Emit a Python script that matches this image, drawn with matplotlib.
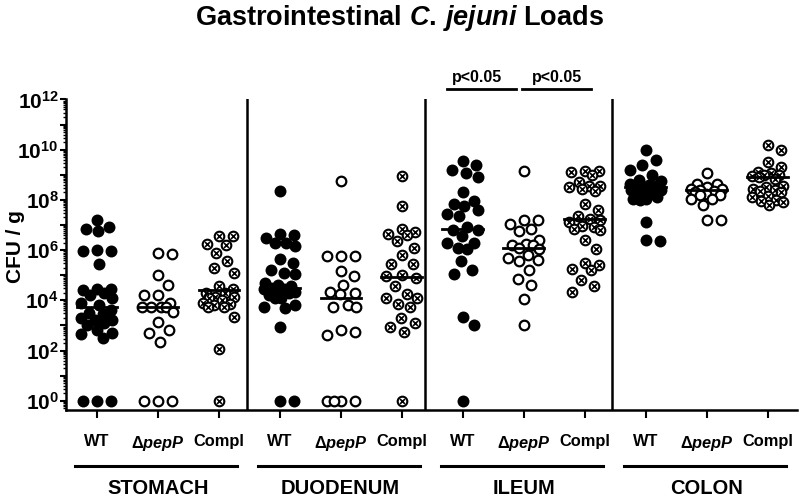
import numpy as np
import matplotlib
matplotlib.use("Agg")
import matplotlib.pyplot as plt
import matplotlib.transforms as mtransforms
from matplotlib.ticker import LogLocator, NullFormatter

plt.rcParams['font.family'] = 'Liberation Sans'
plt.rcParams['font.weight'] = 'bold'
plt.rcParams['mathtext.fontset'] = 'custom'
plt.rcParams['mathtext.rm'] = 'Liberation Sans:bold'
plt.rcParams['mathtext.it'] = 'Liberation Sans:italic:bold'
plt.rcParams['mathtext.bf'] = 'Liberation Sans:bold'

organos = ["STOMACH", "DUODENUM", "ILEUM", "COLON"]
cepas = ["WT", r"$\Delta\mathit{pepP}$", "Compl"]

# log10(CFU/g) (0 = 10^0)
stomach_wt = [7.2, 6.9, 6.85, 6.75, 6.0, 5.95, 5.95, 5.45, 4.45, 4.45, 4.4, 4.3, 4.2, 4.1, 3.9, 3.8,
              3.6, 3.5, 3.45, 3.3, 3.2, 3.2, 3.1, 3.0, 2.8, 2.7, 2.65, 2.5, 0, 0, 0]
stomach_pepp = [5.9, 5.85, 5.0, 4.6, 4.2, 4.2, 3.9, 3.75, 3.75, 3.75, 3.75, 3.55, 3.15, 2.8, 2.7,
                2.35, 0, 0, 0]
stomach_compl = [6.55, 6.55, 6.25, 6.2, 5.9, 5.55, 5.3, 5.1, 4.55, 4.45, 4.3, 4.3, 4.15, 4.15, 4.1,
                 4.0, 3.9, 3.85, 3.8, 3.75, 3.75, 3.35, 2.05, 0]

duodenum_wt = [8.35, 6.65, 6.6, 6.5, 6.3, 6.3, 6.15, 5.65, 5.5, 5.2, 5.1, 5.05, 4.7, 4.6, 4.55, 4.5,
               4.45, 4.45, 4.4, 4.35, 4.3, 4.2, 4.1, 4.1, 3.8, 3.75, 3.7, 2.95, 0, 0]
duodenum_pepp = [8.75, 5.75, 5.75, 5.75, 5.15, 4.95, 4.6, 4.35, 4.3, 4.25, 3.8, 3.75, 3.75, 2.8,
                 2.75, 2.6, 0, 0, 0, 0]
duodenum_compl = [8.95, 7.75, 6.85, 6.7, 6.65, 6.6, 6.35, 6.1, 5.8, 5.45, 5.45, 5.0, 4.95, 4.9,
                  4.55, 4.25, 4.1, 4.1, 3.85, 3.75, 3.3, 3.1, 2.95, 2.75, 0]

ileum_wt = [9.55, 9.4, 9.2, 9.05, 8.9, 8.3, 7.95, 7.85, 7.75, 7.6, 7.45, 7.35, 6.9, 6.8, 6.8, 6.55,
            6.3, 6.3, 6.1, 6.05, 5.55, 5.2, 5.05, 3.35, 3.0, 0]
ileum_pepp = [9.15, 7.2, 7.2, 7.05, 6.85, 6.75, 6.4, 6.25, 6.2, 6.2, 6.1, 6.05, 5.8, 5.7, 5.6, 5.55,
              5.2, 4.85, 4.6, 4.05, 3.0]
ileum_compl = [9.15, 9.15, 9.1, 9.0, 8.7, 8.55, 8.55, 8.5, 8.45, 8.35, 7.85, 7.6, 7.35, 7.25, 7.2,
               7.1, 6.95, 6.9, 6.85, 6.8, 6.4, 6.05, 5.5, 5.4, 5.25, 5.2, 4.8, 4.55, 4.35]

colon_wt = [10.0, 9.6, 9.4, 9.2, 9.0, 8.8, 8.75, 8.65, 8.6, 8.55, 8.5, 8.45, 8.4, 8.4, 8.35, 8.3,
            8.1, 8.05, 8.05, 8.0, 7.1, 6.4, 6.35]
colon_pepp = [9.05, 8.65, 8.65, 8.5, 8.45, 8.45, 8.4, 8.35, 8.3, 8.25, 8.2, 8.2, 8.05, 8.05, 7.8,
              7.2, 7.2]
colon_compl = [10.2, 10.0, 9.5, 9.3, 9.1, 9.05, 9.0, 9.0, 8.95, 8.9, 8.85, 8.55, 8.5, 8.45, 8.4,
               8.35, 8.3, 8.15, 8.1, 8.0, 7.95, 7.9, 7.8]

# medianas (log10)
medianas = [3.75, 3.72, 4.41, 4.5, 4.08, 4.94, 6.83, 6.07, 7.22, 8.5, 8.39, 8.92]

grupos = [stomach_wt, stomach_pepp, stomach_compl,
          duodenum_wt, duodenum_pepp, duodenum_compl,
          ileum_wt, ileum_pepp, ileum_compl,
          colon_wt, colon_pepp, colon_compl]

fig = plt.figure(figsize=(8, 4.97), dpi=100)
ax = fig.add_axes([0.082, 0.175, 0.914, 0.625])
ax.set_yscale('log')
ax.set_xlim(-0.51, 11.48)
ax.set_ylim(10 ** -0.37, 1e12)


def enjambre(x0, logs, D=14.0, W=15.5):
    # reparte los puntos en horizontal (en pixeles) para que no se pisen
    pix = ax.transData.transform([(x0, 10.0 ** v) for v in logs])
    grid = np.arange(-W, W + 0.01, 0.5)
    puestos = []
    for px, py in sorted(pix.tolist(), key=lambda p: -p[1]):
        if puestos:
            arr = np.array(puestos)
            d = np.sqrt((grid[:, None] + px - arr[:, 0]) ** 2 + (py - arr[:, 1]) ** 2).min(axis=1)
        else:
            d = np.full(grid.shape, np.inf)
        ok = grid[d >= D]
        if len(ok):
            dx = sorted(ok, key=lambda c: (abs(c), -c))[0]
        else:
            dx = grid[np.argmax(d)]
        puestos.append((px + dx, py))
    return ax.transData.inverted().transform(puestos)


for i, vals in enumerate(grupos):
    pts = enjambre(i, vals)
    tipo = i % 3
    if tipo == 0:
        ax.scatter(pts[:, 0], pts[:, 1], s=74, c='black', edgecolors='black', linewidths=0, zorder=3)
    elif tipo == 1:
        ax.scatter(pts[:, 0], pts[:, 1], s=48, facecolors='white', edgecolors='black',
                   linewidths=1.6, zorder=3)
    else:
        ax.scatter(pts[:, 0], pts[:, 1], s=48, facecolors='white', edgecolors='black',
                   linewidths=1.5, zorder=3)
        ax.scatter(pts[:, 0], pts[:, 1], s=12, marker='x', c='black', linewidths=1.2, zorder=4)
    m = 10 ** medianas[i]
    ax.plot([i - 0.33, i + 0.33], [m, m], color='black', lw=2.0, zorder=5)

# separadores entre organos
for s in [2.46, 5.39, 8.45]:
    ax.axvline(s, color='black', lw=1.8)

ax.spines['top'].set_visible(False)
ax.spines['right'].set_visible(False)
ax.spines['left'].set_linewidth(1.8)
ax.spines['bottom'].set_linewidth(1.8)

ax.set_yticks([10.0 ** k for k in range(13)])
ax.set_yticklabels([r'$10^{%d}$' % k if k % 2 == 0 else '' for k in range(13)], fontsize=15)
ax.yaxis.set_minor_locator(LogLocator(base=10, subs=np.arange(2, 10), numticks=100))
ax.yaxis.set_minor_formatter(NullFormatter())
ax.tick_params(axis='y', which='major', length=4, width=1.5, pad=1)
ax.tick_params(axis='y', which='minor', length=2.5, width=1.0)

ax.set_xticks(range(12))
ax.set_xticklabels(cepas * 4, fontsize=11.8)
ax.tick_params(axis='x', length=6, width=1.5, pad=11)

ax.set_ylabel('CFU / g', fontsize=15, fontweight='bold')
ax.yaxis.set_label_coords(-0.056, 0.525)

trans = mtransforms.blended_transform_factory(ax.transData, ax.transAxes)
for k, nombre in enumerate(organos):
    c = 3 * k + 1
    ax.plot([c - 1.36, c + 1.3], [-0.18, -0.18], transform=trans, color='black', lw=2.2,
            clip_on=False)
    ax.text(c, -0.252, nombre, transform=trans, ha='center', va='center', fontsize=14.5,
            fontweight='bold')

# significancia en ileum
for x1, x2, xt in [(5.74, 6.87, 6.24), (6.97, 8.11, 7.55)]:
    ax.plot([x1, x2], [1.032, 1.032], transform=trans, color='black', lw=2.0, clip_on=False)
    ax.text(xt, 1.072, 'p<0.05', transform=trans, ha='center', va='center', fontsize=11.5,
            fontweight='bold')

fig.text(0.5, 0.964, r'Gastrointestinal $\mathit{C.\,jejuni}$ Loads', ha='center', va='center',
         fontsize=19.5, fontweight='bold')

fig.savefig('out.png', dpi=100)
